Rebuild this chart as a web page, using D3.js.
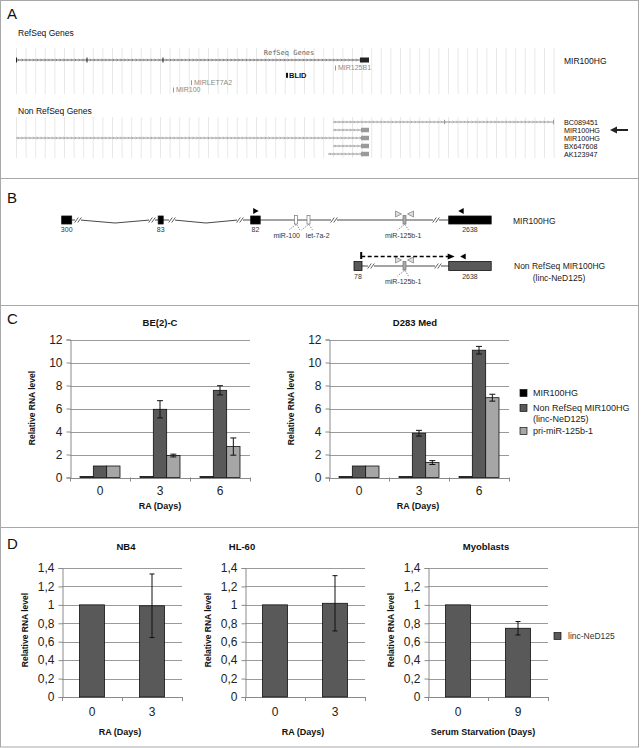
<!DOCTYPE html>
<html><head><meta charset="utf-8">
<script src="https://cdn.jsdelivr.net/npm/d3@7"></script>
<style>body{margin:0;background:#fff;} svg{display:block;font-family:"Liberation Sans",Arial,sans-serif;}</style>
</head><body><svg id="fig" width="642" height="748"></svg>
<script>
// ================= DATA =================
// Panel A – genome browser (positions in kb within the window)
const refseqGene = {name:"MIR100HG", start:0, end:353, exons:[[0,1],[70.5,71.5],[146.5,147.5],[344,353]]};
const refseqMirs = [
  {name:"MIR125B1", pos:319, row:0, bold:false},
  {name:"BLID", pos:270, row:1, bold:true},
  {name:"MIRLET7A2", pos:175, row:2, bold:false},
  {name:"MIR100", pos:157, row:3, bold:false}
];
const nonRefNames  = ["BC089451","MIR100HG","MIR100HG","BX647608","AK123947"];
const nonRefStarts = [317, 317, 0, 317, 312];
const nonRefEnds   = [538, 353, 353, 353, 353];
const nonRefExons  = [[[428,429],[537,538]], [[345,353]], [[345,353]], [[345,353]], [[345,353]]];

// Panel B – gene structure (schematic units)
const mirExons  = [{s:0,e:10,label:"300"},{s:96.5,e:101.5,label:"83"},{s:189,e:198.5,label:"82"},{s:387,e:429.5,label:"2638"}];
const mirBreaks = [16.3, 90.3, 110.3, 178.3, 272.3, 374.3];
const mirDips   = [[16.3,90.3],[110.3,178.3]];
const mirHairpins = [{pos:234.3,label:"miR-100",lx:225,fill:"#fff"},{pos:246.8,label:"let-7a-2",lx:256,fill:"#fff"},{pos:342.8,label:"miR-125b-1",lx:341.5,fill:"#aaa"}];
const lincExons  = [{s:292.3,e:300.3,label:"78"},{s:387,e:429.5,label:"2638"}];
const lincBreaks = [309.3, 376.3];

// Panel C
const cCategories = ["0","3","6"];
const cSeries = ["MIR100HG","Non RefSeq MIR100HG","pri-miR-125b-1"];
const cSeriesLegend = [["MIR100HG"],["Non RefSeq MIR100HG","(linc-NeD125)"],["pri-miR-125b-1"]];
const cColors = ["#000000","#595959","#a6a6a6"];
const cTicks = [0,2,4,6,8,10,12];
const be2c_MIR100HG = [0.08, 0.08, 0.08];
const be2c_linc     = [1, 5.93, 7.58];
const be2c_linc_err = [0, 0.75, 0.4];
const be2c_pri      = [1, 1.91, 2.69];
const be2c_pri_err  = [0, 0.12, 0.75];
const d283_MIR100HG = [0.08, 0.08, 0.08];
const d283_linc     = [1, 3.85, 11.07];
const d283_linc_err = [0, 0.25, 0.33];
const d283_pri      = [1, 1.3, 6.94];
const d283_pri_err  = [0, 0.17, 0.3];

// Panel D
const dTicks = [0,0.2,0.4,0.6,0.8,1,1.2,1.4];
const nb4_cats = ["0","3"],  nb4_vals = [1, 0.99],  nb4_err = [0, 0.345];
const hl60_cats = ["0","3"], hl60_vals = [1, 1.017], hl60_err = [0, 0.3];
const myo_cats = ["0","9"],  myo_vals = [1, 0.746], myo_err = [0, 0.073];

// ================= DRAW =================
const svg = d3.select("#fig");
const fmtComma = v => String(v).replace(".", ",");
function txt(g, x, y, s, o={}) {
  return g.append("text").attr("x",x).attr("y",y).attr("dy","0.35em")
    .attr("font-size",o.size||9).attr("font-weight",o.bold?"bold":"normal")
    .attr("text-anchor",o.anchor||"start").attr("fill",o.fill||"#111")
    .attr("font-family",o.family||null).text(s);
}

// frame & separators
svg.append("rect").attr("x",0.5).attr("y",0.5).attr("width",638).attr("height",746.5)
  .attr("fill","none").attr("stroke","#a8a8a8");
[178.5, 305.5, 527.5].forEach(y => svg.append("line").attr("x1",0.5).attr("x2",638.5)
  .attr("y1",y).attr("y2",y).attr("stroke","#a8a8a8"));

// panel letters
[["A",14],["B",198],["C",319],["D",544]].forEach(([l,y]) => txt(svg, 7, y, l, {size:15}));

// ---------- Panel A ----------
const gA = svg.append("g");
const xA = d3.scaleLinear().domain([0,545]).range([16,561]);
const gridA = d3.range(0, 546, 9.6);
function vgrid(y1, y2) {
  gA.selectAll(null).data(gridA).enter().append("line")
    .attr("x1",d=>xA(d)+0.5).attr("x2",d=>xA(d)+0.5).attr("y1",y1).attr("y2",y2)
    .attr("stroke","#e2e2e2").attr("stroke-width",0.8);
}
vgrid(48, 94); vgrid(117, 158);
txt(gA, 18, 33, "RefSeq Genes", {size:8.5});
txt(gA, 18, 111, "Non RefSeq Genes", {size:8.5});
txt(gA, 289, 53, "RefSeq Genes", {size:7, anchor:"middle", fill:"#666", family:"DejaVu Sans Mono"});

function track(y, s, e, exons, color, exonColor, exonH) {
  gA.append("line").attr("x1",xA(s)).attr("x2",xA(e)).attr("y1",y).attr("y2",y)
    .attr("stroke",color).attr("stroke-width",1);
  const ch = d3.range(s+3, e-2, 3.8);
  gA.append("path").attr("d", ch.map(c => `M${xA(c)-1.2},${y-1.3}L${xA(c)},${y}L${xA(c)-1.2},${y+1.3}`).join(""))
    .attr("fill","none").attr("stroke",color).attr("stroke-width",0.6);
  exons.forEach(([a,b]) => gA.append("rect").attr("x",xA(a)).attr("y",y-exonH/2)
    .attr("width",Math.max(1,xA(b)-xA(a))).attr("height",exonH).attr("fill",exonColor));
}
track(60, refseqGene.start, refseqGene.end, refseqGene.exons, "#666", "#222", 5);
txt(gA, 564, 61, refseqGene.name, {size:8.5});
const yMir = d3.scalePoint().domain([0,1,2,3]).range([68,90]);
refseqMirs.forEach(m => {
  gA.append("rect").attr("x",xA(m.pos)).attr("y",yMir(m.row)-2.5)
    .attr("width",m.bold?2:1).attr("height",5).attr("fill",m.bold?"#111":"#999");
  txt(gA, xA(m.pos)+3, yMir(m.row), m.name, {size:m.bold?7.5:7, bold:m.bold, fill:m.bold?"#111":"#8a8a8a"});
});
const yNR = d3.scalePoint().domain(d3.range(nonRefNames.length)).range([122,154]);
nonRefNames.forEach((n,i) => {
  track(yNR(i), nonRefStarts[i], nonRefEnds[i], nonRefExons[i], "#999", "#9a9a9a", 4.5);
  txt(gA, 564, yNR(i), n, {size:7.2});
});
// arrow pointing at linc transcript
gA.append("line").attr("x1",616).attr("x2",628).attr("y1",yNR(1)).attr("y2",yNR(1)).attr("stroke","#222").attr("stroke-width",2);
gA.append("path").attr("d",`M610,${yNR(1)}L617,${yNR(1)-3.5}L617,${yNR(1)+3.5}Z`).attr("fill","#222");

// ---------- Panel B ----------
const gB = svg.append("g");
const xB = d3.scaleLinear().domain([0,430]).range([61.7,491.7]);
function geneRow(y, exons, breaks, dips, exonFill, exonH) {
  const first = exons[0].e, last = exons[exons.length-1].s;
  const pts = [[first,0]];
  dips.forEach(([a,b]) => { pts.push([a+2,0]); pts.push([(a+b)/2,3]); pts.push([b-2,0]); });
  pts.push([last,0]);
  gB.append("path").attr("d", d3.line().x(d=>xB(d[0])).y(d=>y+d[1])(pts.sort((p,q)=>p[0]-q[0])))
    .attr("fill","none").attr("stroke","#333").attr("stroke-width",0.9);
  breaks.forEach(b => {
    gB.append("rect").attr("x",xB(b)-3).attr("y",y-2).attr("width",6).attr("height",4).attr("fill","#fff");
    [-1.5,1.5].forEach(o => gB.append("line").attr("x1",xB(b)+o-1.8).attr("x2",xB(b)+o+1.8)
      .attr("y1",y+2.5).attr("y2",y-2.5).attr("stroke","#333").attr("stroke-width",0.8));
  });
  exons.forEach(ex => {
    gB.append("rect").attr("x",xB(ex.s)).attr("y",y-exonH/2).attr("width",xB(ex.e)-xB(ex.s))
      .attr("height",exonH).attr("fill",exonFill).attr("stroke","#111").attr("stroke-width",0.8);
    txt(gB, (xB(ex.s)+xB(ex.e))/2, y+exonH/2+6, ex.label, {size:7, anchor:"middle", fill:"#333"});
  });
}
function hairpin(y, m) {
  const x = xB(m.pos);
  gB.append("rect").attr("x",x-1.5).attr("y",y-4.5).attr("width",3).attr("height",8.5)
    .attr("fill",m.fill).attr("stroke","#777").attr("stroke-width",0.7);
  gB.append("path").attr("d",`M${x},${y+4.5}L${x-7},${y+10}M${x+0.5},${y+4.5}L${x+4},${y+10}`)
    .attr("stroke","#444").attr("stroke-width",0.6).attr("stroke-dasharray","1.5,1.2").attr("fill","none");
  txt(gB, xB(m.lx), y+16, m.label, {size:7, anchor:"middle", fill:"#333"});
}
function primerPair(y, m) {
  const x = xB(m.pos);
  gB.append("path").attr("d",`M${x-9},${y-9}L${x-3},${y-6}L${x-9},${y-3}Z`).attr("fill","#ddd").attr("stroke","#888").attr("stroke-width",0.8);
  gB.append("path").attr("d",`M${x+9},${y-9}L${x+3},${y-6}L${x+9},${y-3}Z`).attr("fill","#ddd").attr("stroke","#888").attr("stroke-width",0.8);
}
const yB1 = 220, yB2 = 266;
geneRow(yB1, mirExons, mirBreaks, mirDips, "#000", 8);
mirHairpins.forEach(m => hairpin(yB1, m));
primerPair(yB1, mirHairpins[2]);
gB.append("path").attr("d",`M${xB(191.5)},${yB1-12}L${xB(197)},${yB1-9}L${xB(191.5)},${yB1-6}Z`).attr("fill","#000");
gB.append("path").attr("d",`M${xB(402)},${yB1-12}L${xB(396.5)},${yB1-9}L${xB(402)},${yB1-6}Z`).attr("fill","#000");
txt(gB, 513, 221, "MIR100HG", {size:8.5, fill:"#222"});

geneRow(yB2, lincExons, lincBreaks, [], "#595959", 9);
hairpin(yB2, mirHairpins[2]);
primerPair(yB2, mirHairpins[2]);
gB.append("rect").attr("x",xB(298.5)).attr("y",yB2-14).attr("width",2).attr("height",7).attr("fill","#000");
gB.append("line").attr("x1",xB(299.5)).attr("x2",xB(388)).attr("y1",yB2-9.5).attr("y2",yB2-9.5)
  .attr("stroke","#000").attr("stroke-width",1.3).attr("stroke-dasharray","4,2.5");
gB.append("path").attr("d",`M${xB(386)},${yB2-12.5}L${xB(393)},${yB2-9.5}L${xB(386)},${yB2-6.5}Z`).attr("fill","#000");
gB.append("path").attr("d",`M${xB(404)},${yB2-12.5}L${xB(398.5)},${yB2-9.5}L${xB(404)},${yB2-6.5}Z`).attr("fill","#000");
txt(gB, 514, 266, "Non RefSeq MIR100HG", {size:8.5, fill:"#222"});
txt(gB, 559, 278, "(linc-NeD125)", {size:8.5, anchor:"middle", fill:"#222"});

// ---------- generic bar chart ----------
function barChart(o) {
  const g = svg.append("g");
  const y = d3.scaleLinear().domain(o.domain).range([o.y0, o.y1]);
  const x = d3.scaleBand().domain(o.cats).range([o.x0, o.x1]);
  const inner = d3.scaleBand().domain(d3.range(o.series.length))
    .range([o.innerPad, x.bandwidth()-o.innerPad]);
  g.selectAll(null).data(o.ticks.filter(t=>t>0)).enter().append("line")
    .attr("x1",o.x0).attr("x2",o.x1).attr("y1",d=>Math.round(y(d))+0.5).attr("y2",d=>Math.round(y(d))+0.5)
    .attr("stroke","#9a9a9a").attr("stroke-width",1);
  const ya = g.append("g").attr("transform",`translate(${o.x0+0.5},0)`)
    .call(d3.axisLeft(y).tickValues(o.ticks).tickSize(4).tickPadding(4).tickFormat(o.fmt));
  ya.select(".domain").attr("stroke","#8a8a8a");
  ya.selectAll(".tick line").attr("stroke","#8a8a8a");
  ya.selectAll("text").attr("font-size",o.tickSize).attr("font-family","Liberation Sans, Arial").attr("fill","#222");
  g.append("line").attr("x1",o.x0).attr("x2",o.x1).attr("y1",Math.round(y(0))+0.5).attr("y2",Math.round(y(0))+0.5).attr("stroke","#8a8a8a");
  g.selectAll(null).data(d3.range(o.cats.length+1)).enter().append("line")
    .attr("x1",i=>Math.round(o.x0+i*x.step())+0.5).attr("x2",i=>Math.round(o.x0+i*x.step())+0.5)
    .attr("y1",y(0)).attr("y2",y(0)+4).attr("stroke","#8a8a8a");
  g.selectAll(null).data(o.cats).enter().append("text")
    .attr("x",d=>x(d)+x.bandwidth()/2).attr("y",o.xLabelY).attr("dy","0.35em").attr("text-anchor","middle")
    .attr("font-size",o.tickSize).attr("fill","#222").text(d=>d);
  o.series.forEach((vals, si) => {
    g.selectAll(null).data(vals).enter().append("rect")
      .attr("x",(d,i)=>x(o.cats[i])+inner(si)).attr("width",inner.bandwidth())
      .attr("y",d=>y(d)).attr("height",d=>y(0)-y(d))
      .attr("fill",o.colors[si]).attr("stroke","#111").attr("stroke-width",0.8);
    const errs = o.errors[si];
    if (errs) errs.forEach((e,i) => {
      if (!e) return;
      const cx = x(o.cats[i]) + inner(si) + inner.bandwidth()/2;
      const hi = y(vals[i]+e), lo = y(vals[i]-e);
      g.append("path").attr("d",`M${cx},${hi}V${lo}M${cx-o.cap},${hi}H${cx+o.cap}M${cx-o.cap},${lo}H${cx+o.cap}`)
        .attr("stroke","#111").attr("stroke-width",1).attr("fill","none");
    });
  });
  txt(g, o.titleX, o.titleY, o.title, {size:9.5, bold:true, anchor:"middle"});
  txt(g, o.xTitleX, o.xTitleY, o.xTitle, {size:9, bold:true, anchor:"middle"});
  g.append("text").attr("transform",`translate(${o.yTitleX},${o.yTitleY}) rotate(-90)`).attr("dy","0.35em")
    .attr("text-anchor","middle").attr("font-size",8.5).attr("font-weight","bold").attr("fill","#111")
    .text("Relative RNA level");
  return g;
}

// ---------- Panel C ----------
const cCommon = {domain:[0,12], ticks:cTicks, y0:477.5, y1:339.5, cats:cCategories, innerPad:10,
  colors:cColors, tickSize:12, fmt:d=>d, cap:3, xLabelY:491, xTitleY:506, yTitleY:408, titleY:323, xTitle:"RA (Days)"};
barChart({...cCommon, x0:70, x1:250, title:"BE(2)-C", titleX:160, xTitleX:160, yTitleX:32,
  series:[be2c_MIR100HG, be2c_linc, be2c_pri], errors:[null, be2c_linc_err, be2c_pri_err]});
barChart({...cCommon, x0:329, x1:509, title:"D283 Med", titleX:415, xTitleX:418, yTitleX:291,
  series:[d283_MIR100HG, d283_linc, d283_pri], errors:[null, d283_linc_err, d283_pri_err]});
const yLegC = [393, 408, 431];
cSeriesLegend.forEach((lines, i) => {
  svg.append("rect").attr("x",520).attr("y",yLegC[i]-3.5).attr("width",7).attr("height",7)
    .attr("fill",cColors[i]).attr("stroke","#111").attr("stroke-width",0.7);
  lines.forEach((l,j) => txt(svg, 533, yLegC[i]+j*10.5, l, {size:9, fill:"#222"}));
});

// ---------- Panel D ----------
const dCommon = {domain:[0,1.4], ticks:dTicks, y0:697, y1:568, innerPad:17.5, colors:["#595959"],
  tickSize:12, fmt:fmtComma, cap:2.5, xLabelY:712, xTitleY:732, yTitleY:630, titleY:547};
barChart({...dCommon, x0:62, x1:182, cats:nb4_cats, series:[nb4_vals], errors:[nb4_err],
  title:"NB4", titleX:126, xTitle:"RA (Days)", xTitleX:120, yTitleX:25});
barChart({...dCommon, x0:245, x1:365, cats:hl60_cats, series:[hl60_vals], errors:[hl60_err],
  title:"HL-60", titleX:242, xTitle:"RA (Days)", xTitleX:303, yTitleX:208});
barChart({...dCommon, x0:428, x1:548, cats:myo_cats, series:[myo_vals], errors:[myo_err],
  title:"Myoblasts", titleX:486, xTitle:"Serum Starvation (Days)", xTitleX:483, yTitleX:391});
svg.append("rect").attr("x",554).attr("y",632.5).attr("width",7).attr("height",7)
  .attr("fill","#595959").attr("stroke","#111").attr("stroke-width",0.7);
txt(svg, 568, 636, "linc-NeD125", {size:8.5, fill:"#333"});
</script></body></html>
